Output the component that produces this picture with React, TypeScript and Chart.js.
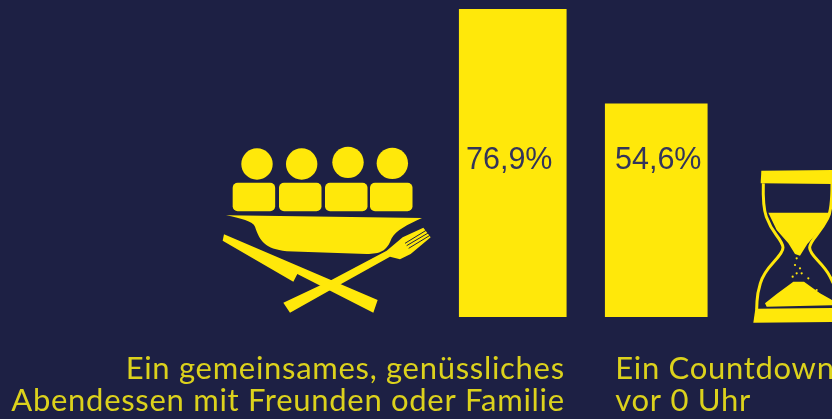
import React, { useEffect, useRef } from "react";
import { Chart, registerables } from "chart.js";

Chart.register(...registerables);

const categories = ["Abendessen", "Countdown"];
const barHeightsRead = [76.9, 53.2];
const valueLabels = ["76,9%", "54,6%"];
const captionLines = [
  ["Ein gemeinsames, genüssliches", "Abendessen mit Freunden oder Familie"],
  ["Ein Countdown", "vor 0 Uhr"],
];
const BG = "#1D2044";
const YELLOW = "#FFE80A";
const TEXT_YELLOW = "#DCD21C";
const LABEL = "#33345A";

type P = [number, number];

function poly(ctx: CanvasRenderingContext2D, pts: P[], map: (p: P) => P) {
  ctx.beginPath();
  pts.forEach((p, i) => {
    const [x, y] = map(p);
    if (i === 0) ctx.moveTo(x, y);
    else ctx.lineTo(x, y);
  });
  ctx.closePath();
  ctx.fill();
}

function smooth(ctx: CanvasRenderingContext2D, pts: P[], map: (p: P) => P) {
  const m = pts.map(map);
  ctx.beginPath();
  ctx.moveTo(m[0][0], m[0][1]);
  for (let i = 1; i < m.length - 1; i++) {
    const mx = (m[i][0] + m[i + 1][0]) / 2;
    const my = (m[i][1] + m[i + 1][1]) / 2;
    ctx.quadraticCurveTo(m[i][0], m[i][1], mx, my);
  }
  const l = m[m.length - 1];
  ctx.lineTo(l[0], l[1]);
  ctx.stroke();
}

function drawDinner(ctx: CanvasRenderingContext2D) {
  const map = (p: P): P => [210 + p[0] / 3, 130 + p[1] / 3];
  ctx.fillStyle = YELLOW;
  ([[141, 102], [275, 102], [414, 97], [547, 100]] as P[]).forEach((c) => {
    const [x, y] = map(c);
    ctx.beginPath();
    ctx.arc(x, y, 15.7, 0, Math.PI * 2);
    ctx.fill();
  });
  [68, 207, 345, 480].forEach((zx) => {
    const [x, y] = map([zx, 158]);
    ctx.beginPath();
    ctx.roundRect(x, y, 42.5, 28.5, 5);
    ctx.fill();
  });
  const [a, b] = [map([48, 256]), map([636, 264])];
  ctx.beginPath();
  ctx.moveTo(a[0], a[1]);
  ctx.lineTo(b[0], b[1]);
  const curve = (c1: P, c2: P, e: P) => {
    const [m1, m2, m3] = [map(c1), map(c2), map(e)];
    ctx.bezierCurveTo(m1[0], m1[1], m2[0], m2[1], m3[0], m3[1]);
  };
  curve([590, 285], [560, 300], [545, 325]);
  curve([530, 365], [510, 372], [470, 372]);
  const mid = map([230, 364]);
  ctx.lineTo(mid[0], mid[1]);
  curve([165, 355], [150, 335], [135, 290]);
  curve([130, 275], [90, 264], [48, 256]);
  ctx.fill();
  // knife
  poly(ctx, [[42, 313], [503, 510], [490, 548], [262, 432], [250, 455], [38, 332]], map);
  // fork
  poly(ctx, [[220, 518], [360, 452], [530, 362], [578, 322], [640, 293], [662, 322], [602, 372], [570, 388], [540, 380], [400, 458], [240, 548]], map);
  ctx.strokeStyle = BG;
  ctx.lineWidth = 1;
  ([[[585, 340], [650, 300]], [[590, 347], [656, 308]], [[596, 355], [660, 316]]] as P[][]).forEach(([s, e]) => {
    const [ms, me] = [map(s), map(e)];
    ctx.beginPath();
    ctx.moveTo(ms[0], ms[1]);
    ctx.lineTo(me[0], me[1]);
    ctx.stroke();
  });
}

function drawHourglass(ctx: CanvasRenderingContext2D) {
  const map = (p: P): P => [600 + p[0] / 3, 90 + p[1] / 3];
  ctx.fillStyle = YELLOW;
  poly(ctx, [[484, 242], [700, 240], [700, 282], [482, 280]], map);
  poly(ctx, [[466, 656], [700, 654], [700, 696], [460, 698]], map);
  ctx.strokeStyle = YELLOW;
  ctx.lineWidth = 3;
  smooth(ctx, [[490, 280], [488, 350], [510, 410], [548, 460], [550, 485], [490, 550], [472, 610], [470, 658]], map);
  smooth(ctx, [[696, 280], [696, 360], [670, 410], [630, 460], [628, 485], [680, 540], [700, 580]], map);
  poly(ctx, [[505, 368], [694, 368], [664, 415], [622, 462], [600, 497], [585, 492], [565, 460], [530, 420]], map);
  poly(ctx, [[495, 640], [530, 612], [580, 575], [612, 575], [660, 610], [700, 632], [700, 646], [500, 650]], map);
  ([[590, 505], [585, 525], [600, 535], [605, 550], [578, 560], [590, 550], [625, 565], [650, 600]] as P[]).forEach((d) => {
    const [x, y] = map(d);
    ctx.beginPath();
    ctx.arc(x, y, 1.1, 0, Math.PI * 2);
    ctx.fill();
  });
}

const labelShift = [-3.5, 2];

const decor = {
  id: "decor",
  beforeDraw(chart: Chart) {
    const ctx = chart.ctx;
    ctx.save();
    ctx.fillStyle = BG;
    ctx.fillRect(0, 0, chart.width, chart.height);
    ctx.restore();
  },
  afterDraw(chart: Chart) {
    const ctx = chart.ctx;
    ctx.save();
    drawDinner(ctx);
    drawHourglass(ctx);
    const xs = categories.map((_, i) => chart.getDatasetMeta(i).data[i].x);
    ctx.fillStyle = LABEL;
    ctx.font = '30.5px "Liberation Sans"';
    ctx.textAlign = "center";
    ctx.textBaseline = "alphabetic";
    valueLabels.forEach((t, i) => ctx.fillText(t, xs[i] + labelShift[i], 169));
    ctx.fillStyle = TEXT_YELLOW;
    ctx.font = '31px "Lato"';
    (ctx as any).letterSpacing = "0.7px";
    ctx.textAlign = "right";
    captionLines[0].forEach((t, i) => ctx.fillText(t, xs[0] + 52, 379 + i * 32));
    ctx.textAlign = "left";
    captionLines[1].forEach((t, i) => ctx.fillText(t, xs[1] - 41, 379 + i * 32));
    ctx.restore();
  },
};

export default function App() {
  const ref = useRef<HTMLCanvasElement>(null);
  useEffect(() => {
    document.body.style.margin = "0";
    document.body.style.background = BG;
    const chart = new Chart(ref.current!, {
      type: "bar",
      data: {
        labels: categories,
        datasets: [
          { data: [barHeightsRead[0], null], backgroundColor: YELLOW, barThickness: 107 },
          { data: [null, barHeightsRead[1]], backgroundColor: YELLOW, barThickness: 102 },
        ],
      },
      options: {
        animation: false,
        responsive: false,
        layout: { padding: { left: 441, right: 104, top: 9, bottom: 102 } },
        plugins: { legend: { display: false }, tooltip: { enabled: false } },
        scales: {
          x: { stacked: true, display: false },
          y: { stacked: true, display: false, min: 0, max: 76.9 },
        },
      },
      plugins: [decor],
    });
    return () => chart.destroy();
  }, []);
  return <canvas ref={ref} width={832} height={419} style={{ display: "block" }} />;
}
